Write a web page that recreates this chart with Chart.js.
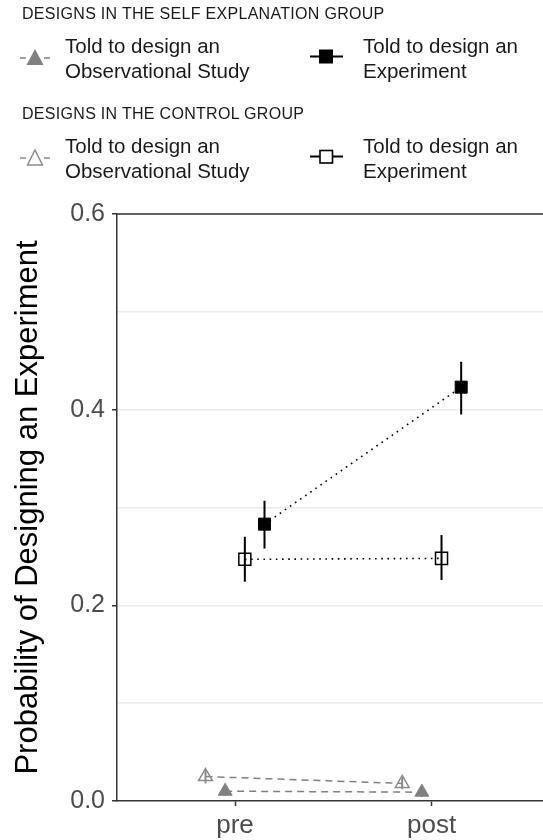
<!DOCTYPE html>
<html>
<head>
<meta charset="utf-8">
<script src="https://cdn.jsdelivr.net/npm/chart.js@4"></script>
<style>
  html, body { margin: 0; padding: 0; background: #fff; }
  #wrap { position: relative; width: 543px; height: 840px; font-family: "Liberation Sans", Arial, sans-serif; color: #1a1a1a; }
  canvas { position: absolute; left: 0; top: 0; }
  .hdr { position: absolute; left: 22px; font-size: 16px; line-height: 16px; letter-spacing: 0.3px; white-space: nowrap; }
  .lab { position: absolute; font-size: 20.5px; line-height: 25px; white-space: nowrap; }
  svg.keys { position: absolute; left: 0; top: 0; }
</style>
</head>
<body>
<div id="wrap">
  <canvas id="chart" width="543" height="840"></canvas>

  <div class="hdr" style="top:6px">DESIGNS IN THE SELF EXPLANATION GROUP</div>
  <div class="lab" style="left:65px;top:33px">Told to design an<br>Observational Study</div>
  <div class="lab" style="left:363px;top:33px">Told to design an<br>Experiment</div>

  <div class="hdr" style="top:106px">DESIGNS IN THE CONTROL GROUP</div>
  <div class="lab" style="left:65px;top:133px">Told to design an<br>Observational Study</div>
  <div class="lab" style="left:363px;top:133px">Told to design an<br>Experiment</div>

  <svg class="keys" width="543" height="200">
    <!-- self explanation: observational -->
    <line x1="20" y1="58" x2="26" y2="58" stroke="#808080" stroke-width="1.5"/>
    <line x1="44" y1="58" x2="50" y2="58" stroke="#808080" stroke-width="1.5"/>
    <polygon points="35,49 43.5,65 26.5,65" fill="#808080"/>
    <!-- self explanation: experiment -->
    <line x1="310" y1="56.5" x2="343" y2="56.5" stroke="#000" stroke-width="1.8"/>
    <rect x="319" y="49.5" width="14" height="14" fill="#000"/>
    <!-- control: observational -->
    <line x1="20" y1="158" x2="26" y2="158" stroke="#8c8c8c" stroke-width="1.5"/>
    <line x1="44" y1="158" x2="50" y2="158" stroke="#8c8c8c" stroke-width="1.5"/>
    <polygon points="35,150 42.5,165 27.5,165" fill="#fff" stroke="#8c8c8c" stroke-width="1.5"/>
    <!-- control: experiment -->
    <line x1="310" y1="156.5" x2="343" y2="156.5" stroke="#000" stroke-width="1.8"/>
    <rect x="320" y="150.5" width="12.5" height="12.5" fill="#fff" stroke="#000" stroke-width="1.6"/>
  </svg>
</div>

<script>
const categories = ['pre', 'post'];
const yGrid = [0, 0.1, 0.2, 0.3, 0.4, 0.5, 0.6];
const yLabels = [0, 0.2, 0.4, 0.6];

// self explanation group
const seExp = [0.283, 0.423];
const seExpLow = [0.258, 0.395];
const seExpHigh = [0.307, 0.449];
const seObs = [0.010, 0.009];
const seObsLow = [0.005, 0.004];
const seObsHigh = [0.015, 0.014];

// control group
const ctrlExp = [0.247, 0.248];
const ctrlExpLow = [0.224, 0.226];
const ctrlExpHigh = [0.270, 0.272];
const ctrlObs = [0.025, 0.018];
const ctrlObsLow = [0.018, 0.012];
const ctrlObsHigh = [0.032, 0.025];

// dodge so the four series sit side by side around each category
const dodge = { ctrlObs: -0.15, seObs: -0.05, ctrlExp: 0.05, seExp: 0.15 };

const toPoints = (values, offset) => values.map((v, i) => ({ x: i + 1 + offset, y: v }));

const errorBars = {
    id: 'errorBars',
    afterDatasetsDraw(chart) {
        const { ctx, scales: { x, y } } = chart;
        ctx.save();
        chart.data.datasets.forEach(ds => {
            if (!ds.errLow) return;
            ctx.strokeStyle = ds.errColor;
            ctx.lineWidth = 2;
            ctx.beginPath();
            ds.data.forEach((p, j) => {
                const px = x.getPixelForValue(p.x);
                ctx.moveTo(px, y.getPixelForValue(ds.errLow[j]));
                ctx.lineTo(px, y.getPixelForValue(ds.errHigh[j]));
            });
            ctx.stroke();
        });
        ctx.restore();
    }
};

const panelTop = {
    id: 'panelTop',
    afterDraw(chart) {
        const { ctx, chartArea: a } = chart;
        ctx.save();
        ctx.strokeStyle = '#333';
        ctx.lineWidth = 1.5;
        ctx.beginPath();
        ctx.moveTo(a.left - 0.75, a.top);
        ctx.lineTo(a.right, a.top);
        ctx.stroke();
        ctx.restore();
    }
};

const isMajor = v => yLabels.some(l => Math.abs(l - v) < 1e-9);

new Chart(document.getElementById('chart').getContext('2d'), {
    type: 'scatter',
    data: {
        datasets: [
            {
                data: toPoints(ctrlObs, dodge.ctrlObs),
                errLow: ctrlObsLow, errHigh: ctrlObsHigh, errColor: '#8c8c8c',
                showLine: true,
                borderColor: '#808080', borderWidth: 1.5, borderDash: [7, 5],
                pointStyle: 'triangle', pointRadius: 8,
                pointBackgroundColor: 'rgba(0,0,0,0)', pointBorderColor: '#8c8c8c', pointBorderWidth: 1.5
            },
            {
                data: toPoints(seObs, dodge.seObs),
                errLow: seObsLow, errHigh: seObsHigh, errColor: '#808080',
                showLine: true,
                borderColor: '#808080', borderWidth: 1.5, borderDash: [7, 5],
                pointStyle: 'triangle', pointRadius: 8,
                pointBackgroundColor: '#808080', pointBorderColor: '#808080', pointBorderWidth: 1
            },
            {
                data: toPoints(ctrlExp, dodge.ctrlExp),
                errLow: ctrlExpLow, errHigh: ctrlExpHigh, errColor: '#000',
                showLine: true,
                borderColor: '#000', borderWidth: 1.6, borderDash: [1.6, 4.6],
                pointStyle: 'rect', pointRadius: 8.5,
                pointBackgroundColor: 'rgba(0,0,0,0)', pointBorderColor: '#000', pointBorderWidth: 1.5
            },
            {
                data: toPoints(seExp, dodge.seExp),
                errLow: seExpLow, errHigh: seExpHigh, errColor: '#000',
                showLine: true,
                borderColor: '#000', borderWidth: 1.6, borderDash: [1.6, 4.6],
                pointStyle: 'rect', pointRadius: 8.5,
                pointBackgroundColor: '#000', pointBorderColor: '#000', pointBorderWidth: 1
            }
        ]
    },
    options: {
        responsive: false,
        animation: false,
        layout: { autoPadding: false, padding: { top: 214, right: 0, bottom: 0, left: 0 } },
        plugins: { legend: { display: false }, tooltip: { enabled: false } },
        scales: {
            x: {
                type: 'linear',
                min: 0.4,
                max: 2.566,
                afterBuildTicks: axis => { axis.ticks = categories.map((c, i) => ({ value: i + 1 })); },
                afterFit: scale => {
                    scale.height = 39;
                    scale.paddingLeft = 0;
                    scale.paddingRight = 0;
                },
                ticks: {
                    callback: v => categories[v - 1] ?? '',
                    font: { family: '"Liberation Sans", Arial, sans-serif', size: 26 },
                    color: '#4d4d4d',
                    padding: 4,
                    maxRotation: 0,
                    autoSkip: false
                },
                grid: { drawOnChartArea: false, tickLength: 5, tickColor: '#333', tickWidth: 1.5 },
                border: { color: '#333', width: 1.5 }
            },
            y: {
                min: 0,
                max: 0.6,
                afterBuildTicks: axis => { axis.ticks = yGrid.map(v => ({ value: v })); },
                afterFit: scale => { scale.width = 117; },
                ticks: {
                    callback: v => isMajor(v) ? v.toFixed(1) : '',
                    font: { family: '"Liberation Sans", Arial, sans-serif', size: 25 },
                    color: '#4d4d4d',
                    padding: 7,
                    autoSkip: false
                },
                grid: {
                    color: ctx => ctx.tick && ctx.tick.value === 0 ? 'rgba(0,0,0,0)' : '#ebebeb',
                    lineWidth: 1.5,
                    tickLength: 5,
                    tickColor: ctx => ctx.tick && isMajor(ctx.tick.value) ? '#333' : 'rgba(0,0,0,0)',
                    tickWidth: 1.5
                },
                border: { color: '#333', width: 1.5 },
                title: {
                    display: true,
                    text: 'Probability of Designing an Experiment',
                    font: { family: '"Liberation Sans", Arial, sans-serif', size: 31 },
                    color: '#000',
                    padding: { top: 10, bottom: 0 }
                }
            }
        }
    },
    plugins: [errorBars, panelTop]
});
</script>
</body>
</html>
